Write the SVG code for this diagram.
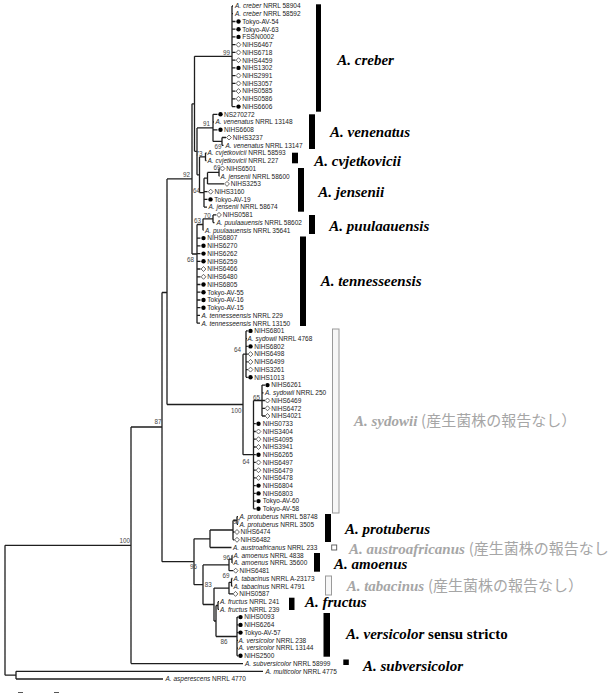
<svg xmlns="http://www.w3.org/2000/svg" xmlns:xlink="http://www.w3.org/1999/xlink" width="608" height="694" viewBox="0 0 608 694">
<style>
.br{fill:none;stroke:#1e1e1e;stroke-width:1.3}
.lf{font-family:"Liberation Sans",Arial,sans-serif;font-size:6.5px;fill:#222}
.it{font-style:italic}
.bs{font-family:"Liberation Sans",Arial,sans-serif;font-size:6.3px;fill:#444;text-anchor:end}
.cl{font-family:"Liberation Serif","Times New Roman",serif;font-size:15px;font-weight:bold;font-style:italic;fill:#000}
.gr{fill:#a6a6a6}
.jp{font-family:"Noto Sans CJK JP",sans-serif;font-style:normal;font-weight:normal;font-size:15px}
.up{font-style:normal}
.bar{fill:#000}
.obar{fill:#f7f7f7;stroke:#9a9a9a;stroke-width:1}
</style>
<defs>
<circle id="d" r="2.2" fill="#000"/>
<path id="v" d="M0,-2.5L2.4,0L0,2.5L-2.4,0Z" fill="#fff" stroke="#444" stroke-width="0.8"/>
</defs>
<rect width="608" height="694" fill="#fff"/>
<g id="connectors">
<path class="br" d="M5,545.3V675.2M5,545.3H131M5,675.2H16M16,671.3V679M16,671.3H263M16,679H163
M131,427V663.6M131,663.6H243M131,427H162M162,292.5V561.7M162,292.5H167M162,561.7H194
M167,178.9V404.5M167,178.9H192M167,404.5H243
M192,103.8V254M192,103.8H194.5M192,254H197
M194.5,56.3V151.3M194.5,56.3H232M194.5,151.3H197
M232,6V106.6M232,6H233M232,13.7H233M232,21.5H235.5M232,29.2H235.5M232,36.9H235.5M232,44.7H235.5M232,52.4H235.5M232,60.2H235.5M232,67.9H235.5M232,75.6H235.5M232,83.4H235.5M232,91.1H235.5M232,98.8H235.5M232,106.6H235.5
M197,127.9V174.8M197,127.9H213M197,174.8H199.5
M213,114.3V141.4M213,141.4H222M213,114.3H217.5M213,122H214M213,129.8H217.5
M222,137.5V145.3M222,137.5H226M222,145.3H223.5
M199.5,156.9V192.6M199.5,156.9H205.5M199.5,192.6H204
M205.5,153V160.7M205.5,153H206.5M205.5,160.7H206.5
M204,178.2V207.1M204,178.2H207.5M204,191.7H207.5M204,199.4H207.5M204,207.1H207
M207.5,172.4V183.9M207.5,172.4H219M207.5,183.9H224
M219,168.5V176.2M219,168.5H219.5M219,176.2H219.5
M197,224.5V323.2M197,224.5H203M197,238.1H200.5M197,245.8H200.5M197,253.6H200.5M197,261.3H200.5M197,269H200.5M197,276.8H200.5M197,284.5H200.5M197,292.2H200.5M197,300H200.5M197,307.7H200.5M197,315.4H200M197,323.2H200
M203,218.8V230.3M203,218.8H213M203,230.3H203.5
M213,214.9V222.6M213,214.9H216M213,222.6H214.5
M243,354.2V454.7M243,354.2H246M243,454.7H253.5
M246,330.9V377.3M246,330.9H247.8M246,338.7H247M246,346.4H247.8M246,354.1H247.8M246,361.9H247.8M246,369.6H247.8M246,377.3H247.8
M253.5,400.5V508.8M253.5,400.5H262M253.5,423.7H255.8M253.5,431.5H255.8M253.5,439.2H255.8M253.5,447H255.8M253.5,454.7H255.8M253.5,462.4H255.8M253.5,470.2H255.8M253.5,477.9H255.8M253.5,485.6H255.8M253.5,493.4H255.8M253.5,501.1H255.8M253.5,508.8H255.8
M262,385.1V416M262,385.1H265M262,392.8H263.5M262,400.5H265M262,408.3H265M262,416H265
M194,538.8V584.7M194,538.8H210M194,584.7H203
M210,530V547.5M210,530H233M210,547.5H231.5
M233,520.4V539.8M233,520.4H237M233,532H234.5M233,539.8H234.5
M237,516.6V524.3M237,516.6H238M237,524.3H238
M203,564.9V604.5M203,564.9H229M203,604.5H214
M229,559.1V570.7M229,559.1H232M229,570.7H233
M232,555.3V563M232,555.3H232.5M232,563H232.5
M214,588.1V621M214,588.1H229M214,621H216
M229,582.3V593.9M229,582.3H231.5M229,593.9H233
M231.5,578.5V586.2M231.5,578.5H232.5M231.5,586.2H232.5
M216,605.5V636.5M216,605.5H218M216,636.5H237
M218,601.7V609.4M218,601.7H219M218,609.4H219
M237,617.1V655.8M237,617.1H238.3M237,624.9H238.3M237,632.6H238.3M237,640.4H238M237,648.1H238M237,655.8H238.3"/>
</g>
<g id="bootstrap">
<text class="bs" x="230" y="54.5">99</text>
<text class="bs" x="210" y="125.5">91</text>
<text class="bs" x="221.5" y="149">69</text>
<text class="bs" x="202.5" y="155.5">73</text>
<text class="bs" x="220.5" y="169.5">69</text>
<text class="bs" x="200" y="192.5">64</text>
<text class="bs" x="190" y="177">92</text>
<text class="bs" x="210.7" y="217.5">70</text>
<text class="bs" x="201" y="223">63</text>
<text class="bs" x="194" y="261.5">68</text>
<text class="bs" x="241" y="352">64</text>
<text class="bs" x="260" y="399.5">65</text>
<text class="bs" x="241.5" y="412.5">100</text>
<text class="bs" x="249.5" y="464">64</text>
<text class="bs" x="161.5" y="424">87</text>
<text class="bs" x="130" y="542.5">100</text>
<text class="bs" x="240" y="524">97</text>
<text class="bs" x="230" y="559.5">96</text>
<text class="bs" x="197" y="568.5">96</text>
<text class="bs" x="229.5" y="578">69</text>
<text class="bs" x="211.7" y="587">83</text>
<text class="bs" x="227.5" y="643.5">86</text>
</g>
<g id="leaves">
<g id="l1"><text class="lf" x="235" y="8.3"><tspan class="it">A. creber</tspan> NRRL 58904</text></g>
<g id="l2"><text class="lf" x="235" y="16"><tspan class="it">A. creber</tspan> NRRL 58592</text></g>
<g id="l3"><use href="#d" x="238.5" y="21.5"/><text class="lf" x="242.3" y="23.8">Tokyo-AV-54</text></g>
<g id="l4"><use href="#d" x="238.5" y="29.2"/><text class="lf" x="242.3" y="31.5">Tokyo-AV-63</text></g>
<g id="l5"><use href="#d" x="238.5" y="36.9"/><text class="lf" x="242.3" y="39.2">FSSN0002</text></g>
<g id="l6"><use href="#v" x="238.5" y="44.7"/><text class="lf" x="242.3" y="47">NIHS6467</text></g>
<g id="l7"><use href="#v" x="238.5" y="52.4"/><text class="lf" x="242.3" y="54.7">NIHS6718</text></g>
<g id="l8"><use href="#v" x="238.5" y="60.2"/><text class="lf" x="242.3" y="62.5">NIHS4459</text></g>
<g id="l9"><use href="#d" x="238.5" y="67.9"/><text class="lf" x="242.3" y="70.2">NIHS1302</text></g>
<g id="l10"><use href="#v" x="238.5" y="75.6"/><text class="lf" x="242.3" y="77.9">NIHS2991</text></g>
<g id="l11"><use href="#v" x="238.5" y="83.4"/><text class="lf" x="242.3" y="85.7">NIHS3057</text></g>
<g id="l12"><use href="#v" x="238.5" y="91.1"/><text class="lf" x="242.3" y="93.4">NIHS0585</text></g>
<g id="l13"><use href="#v" x="238.5" y="98.8"/><text class="lf" x="242.3" y="101.1">NIHS0586</text></g>
<g id="l14"><use href="#d" x="238.5" y="106.6"/><text class="lf" x="242.3" y="108.9">NIHS6606</text></g>
<g id="l15"><use href="#d" x="220.5" y="114.3"/><text class="lf" x="224" y="116.6">NS270272</text></g>
<g id="l16"><text class="lf" x="215.5" y="124.3"><tspan class="it">A. venenatus</tspan> NRRL 13148</text></g>
<g id="l17"><use href="#d" x="220.5" y="129.8"/><text class="lf" x="224" y="132.1">NIHS6608</text></g>
<g id="l18"><use href="#v" x="229" y="137.5"/><text class="lf" x="232.8" y="139.8">NIHS3237</text></g>
<g id="l19"><text class="lf" x="225.5" y="147.6"><tspan class="it">A. venenatus</tspan> NRRL 13147</text></g>
<g id="l20"><text class="lf" x="207.5" y="155.3"><tspan class="it">A. cvjetkovicii</tspan> NRRL 58593</text></g>
<g id="l21"><text class="lf" x="207.5" y="163"><tspan class="it">A. cvjetkovicii</tspan> NRRL 227</text></g>
<g id="l22"><use href="#v" x="222.5" y="168.5"/><text class="lf" x="226.2" y="170.8">NIHS6501</text></g>
<g id="l23"><text class="lf" x="220.5" y="178.5"><tspan class="it">A. jensenii</tspan> NRRL 58600</text></g>
<g id="l24"><use href="#v" x="227" y="183.9"/><text class="lf" x="230.8" y="186.2">NIHS3253</text></g>
<g id="l25"><use href="#v" x="210.7" y="191.7"/><text class="lf" x="214.5" y="194">NIHS3160</text></g>
<g id="l26"><use href="#d" x="210.5" y="199.4"/><text class="lf" x="214.3" y="201.7">Tokyo-AV-19</text></g>
<g id="l27"><text class="lf" x="208.5" y="209.4"><tspan class="it">A. jensenii</tspan> NRRL 58674</text></g>
<g id="l28"><use href="#v" x="219" y="214.9"/><text class="lf" x="222.8" y="217.2">NIHS0581</text></g>
<g id="l29"><text class="lf" x="216.5" y="224.9"><tspan class="it">A. puulaauensis</tspan> NRRL 58602</text></g>
<g id="l30"><text class="lf" x="205" y="232.6"><tspan class="it">A. puulaauensis</tspan> NRRL 35641</text></g>
<g id="l31"><use href="#d" x="203.5" y="238.1"/><text class="lf" x="207.3" y="240.4">NIHS6807</text></g>
<g id="l32"><use href="#d" x="203.5" y="245.8"/><text class="lf" x="207.3" y="248.1">NIHS6270</text></g>
<g id="l33"><use href="#d" x="203.5" y="253.6"/><text class="lf" x="207.3" y="255.9">NIHS6262</text></g>
<g id="l34"><use href="#d" x="203.5" y="261.3"/><text class="lf" x="207.3" y="263.6">NIHS6259</text></g>
<g id="l35"><use href="#v" x="203.5" y="269"/><text class="lf" x="207.3" y="271.3">NIHS6466</text></g>
<g id="l36"><use href="#v" x="203.5" y="276.8"/><text class="lf" x="207.3" y="279.1">NIHS6480</text></g>
<g id="l37"><use href="#d" x="203.5" y="284.5"/><text class="lf" x="207.3" y="286.8">NIHS6805</text></g>
<g id="l38"><use href="#d" x="203.5" y="292.2"/><text class="lf" x="207.3" y="294.5">Tokyo-AV-55</text></g>
<g id="l39"><use href="#d" x="203.5" y="300"/><text class="lf" x="207.3" y="302.3">Tokyo-AV-16</text></g>
<g id="l40"><use href="#d" x="203.5" y="307.7"/><text class="lf" x="207.3" y="310">Tokyo-AV-15</text></g>
<g id="l41"><text class="lf" x="201.5" y="317.7"><tspan class="it">A. tennesseensis</tspan> NRRL 229</text></g>
<g id="l42"><text class="lf" x="201.5" y="325.5"><tspan class="it">A. tennesseensis</tspan> NRRL 13150</text></g>
<g id="l43"><use href="#d" x="250.5" y="330.9"/><text class="lf" x="254.3" y="333.2">NIHS6801</text></g>
<g id="l44"><text class="lf" x="247.5" y="341"><tspan class="it">A. sydowii</tspan> NRRL 4768</text></g>
<g id="l45"><use href="#d" x="250.5" y="346.4"/><text class="lf" x="254.3" y="348.7">NIHS6802</text></g>
<g id="l46"><use href="#v" x="250.5" y="354.1"/><text class="lf" x="254.3" y="356.4">NIHS6498</text></g>
<g id="l47"><use href="#v" x="250.5" y="361.9"/><text class="lf" x="254.3" y="364.2">NIHS6499</text></g>
<g id="l48"><use href="#v" x="250.5" y="369.6"/><text class="lf" x="254.3" y="371.9">NIHS3261</text></g>
<g id="l49"><use href="#d" x="250.5" y="377.3"/><text class="lf" x="254.3" y="379.6">NIHS1013</text></g>
<g id="l50"><use href="#d" x="267.5" y="385.1"/><text class="lf" x="271.3" y="387.4">NIHS6261</text></g>
<g id="l51"><text class="lf" x="265" y="395.1"><tspan class="it">A. sydowii</tspan> NRRL 250</text></g>
<g id="l52"><use href="#v" x="267.5" y="400.5"/><text class="lf" x="271.3" y="402.8">NIHS6469</text></g>
<g id="l53"><use href="#v" x="267.5" y="408.3"/><text class="lf" x="271.3" y="410.6">NIHS6472</text></g>
<g id="l54"><use href="#v" x="267.5" y="416"/><text class="lf" x="271.3" y="418.3">NIHS4021</text></g>
<g id="l55"><use href="#d" x="258.5" y="423.7"/><text class="lf" x="262.8" y="426">NIHS0733</text></g>
<g id="l56"><use href="#v" x="258.5" y="431.5"/><text class="lf" x="262.8" y="433.8">NIHS3404</text></g>
<g id="l57"><use href="#v" x="258.5" y="439.2"/><text class="lf" x="262.8" y="441.5">NIHS4095</text></g>
<g id="l58"><use href="#v" x="258.5" y="447"/><text class="lf" x="262.8" y="449.3">NIHS3941</text></g>
<g id="l59"><use href="#d" x="258.5" y="454.7"/><text class="lf" x="262.8" y="457">NIHS6265</text></g>
<g id="l60"><use href="#v" x="258.5" y="462.4"/><text class="lf" x="262.8" y="464.7">NIHS6497</text></g>
<g id="l61"><use href="#v" x="258.5" y="470.2"/><text class="lf" x="262.8" y="472.5">NIHS6479</text></g>
<g id="l62"><use href="#v" x="258.5" y="477.9"/><text class="lf" x="262.8" y="480.2">NIHS6478</text></g>
<g id="l63"><use href="#d" x="258.5" y="485.6"/><text class="lf" x="262.8" y="487.9">NIHS6804</text></g>
<g id="l64"><use href="#d" x="258.5" y="493.4"/><text class="lf" x="262.8" y="495.7">NIHS6803</text></g>
<g id="l65"><use href="#d" x="258.5" y="501.1"/><text class="lf" x="262.8" y="503.4">Tokyo-AV-60</text></g>
<g id="l66"><use href="#d" x="258.5" y="508.8"/><text class="lf" x="262.8" y="511.1">Tokyo-AV-58</text></g>
<g id="l67"><text class="lf" x="239.5" y="518.9"><tspan class="it">A. protuberus</tspan> NRRL 58748</text></g>
<g id="l68"><text class="lf" x="239.5" y="526.6"><tspan class="it">A. protuberus</tspan> NRRL 3505</text></g>
<g id="l69"><use href="#v" x="237" y="532"/><text class="lf" x="240.5" y="534.3">NIHS6474</text></g>
<g id="l70"><use href="#v" x="237" y="539.8"/><text class="lf" x="240.5" y="542.1">NIHS6482</text></g>
<g id="l71"><text class="lf" x="233" y="549.8"><tspan class="it">A. austroafricanus</tspan> NRRL 233</text></g>
<g id="l72"><text class="lf" x="233.5" y="557.6"><tspan class="it">A. amoenus</tspan> NRRL 4838</text></g>
<g id="l73"><text class="lf" x="233.5" y="565.3"><tspan class="it">A. amoenus</tspan> NRRL 35600</text></g>
<g id="l74"><use href="#v" x="235.7" y="570.7"/><text class="lf" x="239.5" y="573">NIHS6481</text></g>
<g id="l75"><text class="lf" x="233.5" y="580.8"><tspan class="it">A. tabacinus</tspan> NRRL A-23173</text></g>
<g id="l76"><text class="lf" x="233.5" y="588.5"><tspan class="it">A. tabacinus</tspan> NRRL 4791</text></g>
<g id="l77"><use href="#v" x="235.5" y="593.9"/><text class="lf" x="239.3" y="596.2">NIHS0587</text></g>
<g id="l78"><text class="lf" x="220" y="604"><tspan class="it">A. fructus</tspan> NRRL 241</text></g>
<g id="l79"><text class="lf" x="220" y="611.7"><tspan class="it">A. fructus</tspan> NRRL 239</text></g>
<g id="l80"><use href="#d" x="240.5" y="617.1"/><text class="lf" x="244.3" y="619.4">NIHS0093</text></g>
<g id="l81"><use href="#d" x="240.5" y="624.9"/><text class="lf" x="244.3" y="627.2">NIHS6264</text></g>
<g id="l82"><use href="#d" x="240.5" y="632.6"/><text class="lf" x="244.3" y="634.9">Tokyo-AV-57</text></g>
<g id="l83"><text class="lf" x="238.5" y="642.7"><tspan class="it">A. versicolor</tspan> NRRL 238</text></g>
<g id="l84"><text class="lf" x="238.5" y="650.4"><tspan class="it">A. versicolor</tspan> NRRL 13144</text></g>
<g id="l85"><use href="#d" x="240.5" y="655.8"/><text class="lf" x="244.3" y="658.1">NIHS2500</text></g>
<g id="l86"><text class="lf" x="245" y="665.9"><tspan class="it">A. subversicolor</tspan> NRRL 58999</text></g>
<g id="l87"><text class="lf" x="265.5" y="673.6"><tspan class="it">A. multicolor</tspan> NRRL 4775</text></g>
<g id="l88"><text class="lf" x="165.5" y="681.3"><tspan class="it">A. asperescens</tspan> NRRL 4770</text></g>
</g>
<g id="clades">
<g id="c-creber"><rect class="bar" x="316" y="4.3" width="5" height="107.4"/><text class="cl" x="337.3" y="65">A. creber</text></g>
<g id="c-venenatus"><rect class="bar" x="309" y="114.3" width="6" height="34.7"/><text class="cl" x="330" y="137.3">A. venenatus</text></g>
<g id="c-cvjetkovicii"><rect class="bar" x="292" y="152.7" width="6" height="10.6"/><text class="cl" x="314.3" y="166">A. cvjetkovicii</text></g>
<g id="c-jensenii"><rect class="bar" x="298" y="168" width="6" height="43.7"/><text class="cl" x="318.3" y="196.7">A. jensenii</text></g>
<g id="c-puulaauensis"><rect class="bar" x="309" y="215" width="6" height="19"/><text class="cl" x="329.3" y="230.7">A. puulaauensis</text></g>
<g id="c-tennesseensis"><rect class="bar" x="300" y="236.5" width="6" height="89.5"/><text class="cl" x="320.7" y="285.7">A. tennesseensis</text></g>
<g id="c-sydowii"><rect class="obar" x="332.5" y="329" width="6.5" height="184"/><text class="cl gr" x="354" y="426">A. sydowii <tspan class="jp">(産生菌株の報告なし）</tspan></text></g>
<g id="c-protuberus"><rect class="bar" x="325" y="514" width="6" height="28"/><text class="cl" x="345" y="534">A. protuberus</text></g>
<g id="c-austroafricanus"><rect x="331.7" y="545" width="5" height="5" fill="#fff" stroke="#555" stroke-width="0.9"/><text class="cl gr" x="349" y="554">A. austroafricanus <tspan class="jp" font-size="12.8">(産生菌株の報告なし</tspan></text></g>
<g id="c-amoenus"><rect class="bar" x="314" y="553" width="6" height="18.7"/><text class="cl" x="334" y="569">A. amoenus</text></g>
<g id="c-tabacinus"><rect class="obar" x="325.5" y="576" width="6" height="19"/><text class="cl gr" x="346.7" y="590.7">A. tabacinus <tspan class="jp">(産生菌株の報告なし）</tspan></text></g>
<g id="c-fructus"><rect class="bar" x="289" y="597.7" width="5.5" height="12.3"/><text class="cl" x="305" y="606.7">A. fructus</text></g>
<g id="c-versicolor"><rect class="bar" x="323.5" y="613" width="6.5" height="43.7"/><text class="cl" x="346" y="639">A. versicolor<tspan class="up"> sensu stricto</tspan></text></g>
<g id="c-subversicolor"><rect class="bar" x="343.3" y="659.5" width="5.5" height="5.5"/><text class="cl" x="363" y="670.7">A. subversicolor</text></g>
</g>
<g id="scale"><path d="M18,692.5H23M54,692.5H59" stroke="#555" stroke-width="1" fill="none"/></g>
</svg>
